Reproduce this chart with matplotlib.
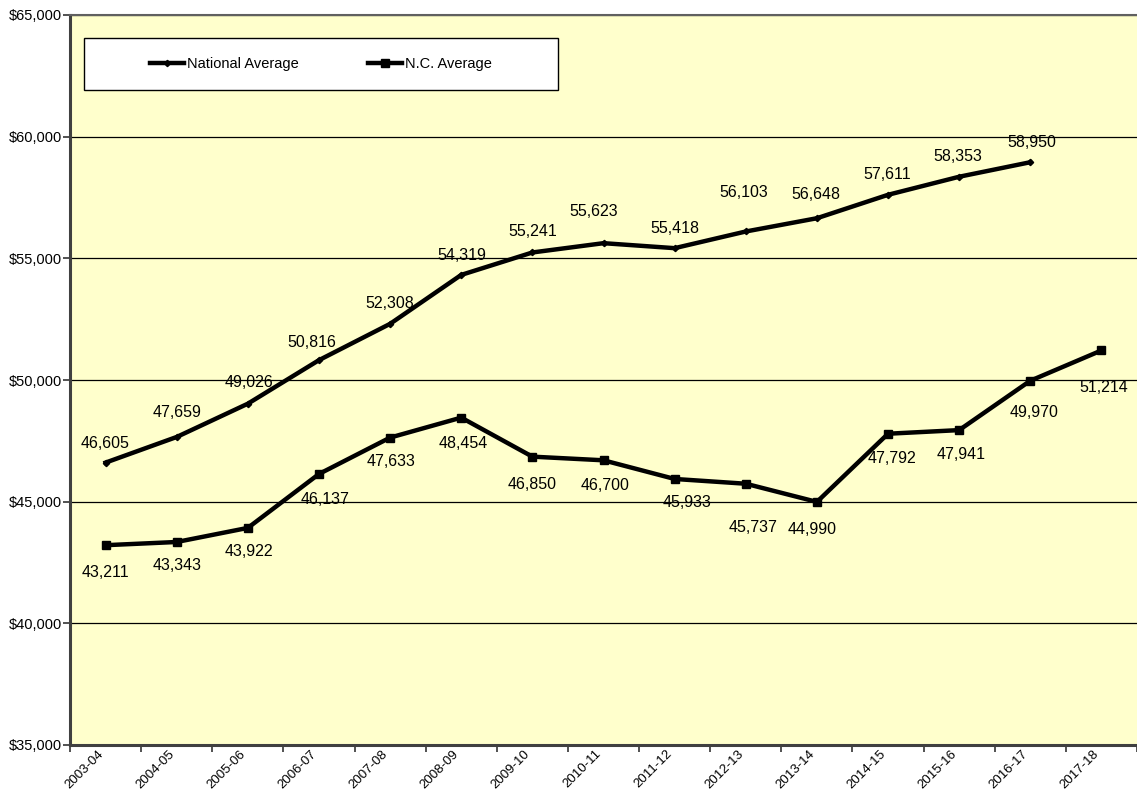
import numpy as np
import matplotlib
matplotlib.use("Agg")
from matplotlib import pyplot as plt
from matplotlib.patches import Rectangle

plt.rcParams['font.family'] = ['Liberation Sans', 'DejaVu Sans']

# school years and average teacher salaries
years = ['2003-04', '2004-05', '2005-06', '2006-07', '2007-08', '2008-09',
         '2009-10', '2010-11', '2011-12', '2012-13', '2013-14', '2014-15',
         '2015-16', '2016-17', '2017-18']
national = [46605, 47659, 49026, 50816, 52308, 54319, 55241, 55623,
            55418, 56103, 56648, 57611, 58353, 58950]
nc = [43211, 43343, 43922, 46137, 47633, 48454, 46850, 46700,
      45933, 45737, 44990, 47792, 47941, 49970, 51214]

# label offsets in pixels (dx, dy), y up
nat_off = [(-1, 19), (0, 24), (1, 21), (-7, 18), (0, 20), (1, 19), (0, 21),
           (-10, 32), (0, 20), (-2, 39), (-1, 24), (-1, 20), (-1, 20), (2, 20)]
nc_off = [(0, -27), (0, -24), (1, -24), (6, -26), (1, -24), (2, -26), (0, -28),
          (2, -25), (12, -24), (7, -44), (-5, -28), (4, -25), (2, -24),
          (4, -32), (2, -37)]

fig = plt.figure(figsize=(11.37, 7.89), dpi=100)
ax = fig.add_axes([70/1137, 44/789, 1067/1137, 730/789])
ax.set_facecolor('#FFFFCC')

x = np.arange(len(years))
ax.plot(x[:len(national)], national, color='black', lw=3.2, marker='D',
        ms=3.2, label='National Average', zorder=3)
ax.plot(x, nc, color='black', lw=3.2, marker='s', ms=5.5,
        label='N.C. Average', zorder=3)

for i, v in enumerate(national):
    ax.annotate(f'{v:,}', (x[i], v), xytext=nat_off[i], textcoords='offset pixels',
                ha='center', va='center', fontsize=11.5, zorder=4)
for i, v in enumerate(nc):
    ax.annotate(f'{v:,}', (x[i], v), xytext=nc_off[i], textcoords='offset pixels',
                ha='center', va='center', fontsize=11.5, zorder=4)

ax.set_xlim(-0.5, len(years) - 0.5)
ax.set_ylim(35000, 65000)
ax.set_yticks(np.arange(35000, 65001, 5000))
ax.set_yticklabels([f'${v:,}' for v in range(35000, 65001, 5000)], fontsize=10.5)
ax.yaxis.grid(True, color='black', lw=0.9)
ax.set_axisbelow(True)

ax.set_xticks(np.arange(-0.5, len(years), 1.0))
ax.set_xticklabels([])
ax.set_xticks(x, minor=True)
ax.set_xticklabels(years, minor=True, rotation=45, ha='right', va='top', fontsize=9.5)
ax.tick_params(axis='x', which='major', length=5, width=1.2, color='#333333')
ax.tick_params(axis='x', which='minor', length=0, pad=2)
ax.tick_params(axis='y', length=5, width=1.2, color='#333333', pad=1)

for s in ['left', 'bottom']:
    ax.spines[s].set_color('#404040')
    ax.spines[s].set_linewidth(2.2)
ax.spines['top'].set_color('#606060')
ax.spines['top'].set_linewidth(1.5)
ax.spines['right'].set_visible(False)

# legend box
box = Rectangle((14/1067, 1 - 75/730), 474/1067, 52/730, transform=ax.transAxes,
                facecolor='white', edgecolor='black', lw=1.0, zorder=5)
ax.add_patch(box)
leg = ax.legend(loc='center', bbox_to_anchor=(14/1067, 1 - 75/730, 474/1067, 52/730),
                ncol=2, frameon=False, fontsize=10.5, handlelength=2.3,
                handletextpad=0.2, columnspacing=4.8)
leg.set_zorder(6)

fig.savefig('out.png', dpi=100)
